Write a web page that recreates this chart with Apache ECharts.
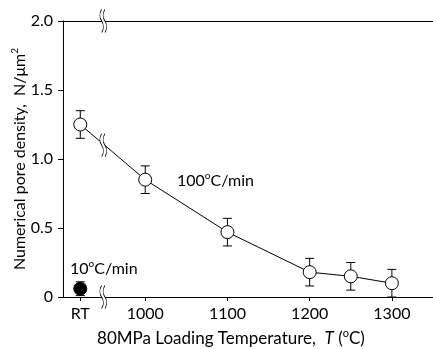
<!DOCTYPE html>
<html>
<head>
<meta charset="utf-8">
<script src="https://cdn.jsdelivr.net/npm/echarts@6/dist/echarts.min.js"></script>
<style>
html,body{margin:0;padding:0;background:#fff;}
#chart{width:433px;height:349px;}
</style>
</head>
<body>
<div id="chart"></div>
<script>
// ---- data ----
const RT_POS = 921; // position of "RT" on the temperature axis
const xTickValues = [RT_POS, 1000, 1100, 1200, 1300];
const xTickLabels = ['RT', '1000', '1100', '1200', '1300'];
const yTickValues = [0, 0.5, 1.0, 1.5, 2.0];

const rate100_T = [RT_POS, 1000, 1100, 1200, 1250, 1300];
const rate100_N = [1.25, 0.85, 0.47, 0.18, 0.15, 0.10];
const rate100_err = [0.10, 0.10, 0.10, 0.10, 0.10, 0.10];

const rate10_T = [RT_POS];
const rate10_N = [0.06];
const rate10_err = [0.05];

const breakT = [949, 949, 949];
const breakN = [2.0, 1.1, 0];

const FONT = 'Lato';

const main100 = rate100_T.map((t, i) => [t, rate100_N[i]]);
const main10 = rate10_T.map((t, i) => [t, rate10_N[i]]);
const errData = rate100_T.map((t, i) => [t, rate100_N[i] - rate100_err[i], rate100_N[i] + rate100_err[i]])
  .concat(rate10_T.map((t, i) => [t, rate10_N[i] - rate10_err[i], rate10_N[i] + rate10_err[i]]));
const breakData = breakT.map((t, i) => [t, breakN[i]]);

const breakFill = 'path://M3,0 C0,5 0,10 3,15 C6,20 6,25 3,30 L7,30 C10,25 10,20 7,15 C4,10 4,5 7,0 Z';
const breakStroke = 'path://M3,0 C0,5 0,10 3,15 C6,20 6,25 3,30 M7,0 C4,5 4,10 7,15 C10,20 10,25 7,30';

const chart = echarts.init(document.getElementById('chart'), null, {renderer: 'canvas'});

const supRich = {
  a: {fontFamily: FONT, fontSize: 16, color: '#000', lineHeight: 20},
  i: {fontFamily: FONT, fontSize: 16, color: '#000', fontStyle: 'italic', lineHeight: 20},
  s: {fontFamily: FONT, fontSize: 10, color: '#000', verticalAlign: 'top', lineHeight: 20}
};
const supRichX = {
  a: {fontFamily: FONT, fontSize: 17, color: '#000', lineHeight: 21},
  i: {fontFamily: FONT, fontSize: 17, color: '#000', fontStyle: 'italic', lineHeight: 21},
  s: {fontFamily: FONT, fontSize: 11, color: '#000', verticalAlign: 'top', lineHeight: 21}
};

chart.setOption({
  animation: false,
  backgroundColor: '#fff',
  textStyle: {fontFamily: FONT},
  grid: {left: 63, top: 21, right: 0, bottom: 52, containLabel: false, outerBoundsMode: 'none'},
  xAxis: [{
    type: 'value', min: 900, max: 1350, position: 'bottom',
    axisLine: {show: true, lineStyle: {color: '#000', width: 1}},
    axisTick: {show: true, inside: false, length: 4, customValues: xTickValues, lineStyle: {color: '#000'}},
    axisLabel: {
      show: true, customValues: xTickValues, margin: 9,
      fontFamily: FONT, fontSize: 16, color: '#000',
      formatter: v => { const k = xTickValues.indexOf(v); return k >= 0 ? xTickLabels[k] : ''; }
    },
    splitLine: {show: false},
    name: '{a|80MPa Loading Temperature,  }{i|T}{a| (}{s|o}{a|C)}',
    nameLocation: 'middle', nameGap: 31, nameMoveOverlap: false,
    nameTextStyle: {rich: supRichX, padding: [0, 34, 0, 0]}
  }, {
    type: 'value', min: 900, max: 1350, position: 'top',
    axisLine: {show: true, lineStyle: {color: '#000', width: 1}},
    axisTick: {show: false}, axisLabel: {show: false}, splitLine: {show: false}
  }],
  yAxis: {
    type: 'value', min: 0, max: 2, interval: 0.5,
    axisLine: {show: true, lineStyle: {color: '#000', width: 1}},
    axisTick: {show: true, inside: false, length: 5, lineStyle: {color: '#000'}},
    axisLabel: {
      margin: 10, fontFamily: FONT, fontSize: 16, color: '#000',
      formatter: v => v === 0 ? '0' : v.toFixed(1)
    },
    splitLine: {show: false},
    name: '{a|Numerical pore density,  N/μm}{s|2}',
    nameLocation: 'middle', nameGap: 33, nameRotate: 90, nameMoveOverlap: false,
    nameTextStyle: {rich: supRich}
  },
  graphic: [
    {type: 'text', left: 177, top: 171, z: 100,
     style: {text: '{a|100}{s|o}{a|C/min}', rich: supRich}},
    {type: 'text', left: 70, top: 259, z: 100,
     style: {text: '{a|10}{s|o}{a|C/min}', rich: supRich}}
  ],
  series: [
    {
      type: 'custom', name: 'err', z: 2,
      data: errData,
      encode: {x: 0, y: [1, 2]},
      clip: false,
      renderItem: function (params, api) {
        const x = api.value(0), lo = api.value(1), hi = api.value(2);
        const p1 = api.coord([x, hi]), p2 = api.coord([x, lo]);
        const w = 4.5;
        const st = {stroke: '#000', lineWidth: 1};
        return {type: 'group', children: [
          {type: 'line', shape: {x1: p1[0], y1: p1[1], x2: p2[0], y2: p2[1]}, style: st},
          {type: 'line', shape: {x1: p1[0] - w, y1: p1[1], x2: p1[0] + w, y2: p1[1]}, style: st},
          {type: 'line', shape: {x1: p2[0] - w, y1: p2[1], x2: p2[0] + w, y2: p2[1]}, style: st}
        ]};
      }
    },
    {
      type: 'line', name: '100C/min', z: 3,
      data: main100,
      symbol: 'circle', symbolSize: 13, showAllSymbol: true,
      lineStyle: {color: '#000', width: 1},
      itemStyle: {color: '#fff', borderColor: '#000', borderWidth: 1},
      clip: false
    },
    {
      type: 'scatter', name: '10C/min', z: 3,
      data: main10,
      symbol: 'circle', symbolSize: 13,
      itemStyle: {color: '#000', borderColor: '#000', borderWidth: 1, opacity: 1}
    },
    {
      type: 'scatter', name: 'breakFill', z: 5, silent: true,
      data: breakData, symbol: breakFill, symbolSize: [7, 23],
      itemStyle: {color: '#fff', borderWidth: 0, opacity: 1}
    },
    {
      type: 'scatter', name: 'breakStroke', z: 6, silent: true,
      data: breakData, symbol: breakStroke, symbolSize: [7, 23],
      itemStyle: {color: 'none', borderColor: '#000', borderWidth: 1, opacity: 1}
    }
  ]
});
</script>
</body>
</html>
